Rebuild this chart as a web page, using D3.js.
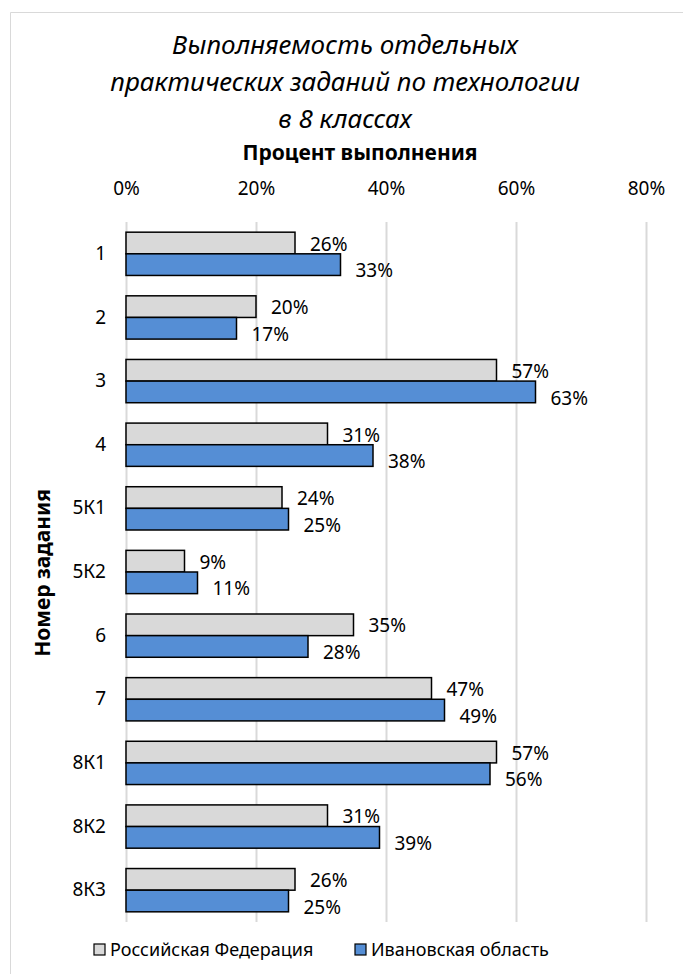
<!DOCTYPE html>
<html>
<head>
<meta charset="utf-8">
<script src="https://cdn.jsdelivr.net/npm/d3@7"></script>
<style>
  body { margin: 0; background: #fff; }
  text { font-family: "Noto Sans", "Open Sans", sans-serif; fill: #000; }
</style>
</head>
<body>
<div id="display"></div>
<script>
// data
const categories = ['1', '2', '3', '4', '5К1', '5К2', '6', '7', '8К1', '8К2', '8К3'];
const seriesNames = ['Российская Федерация', 'Ивановская область'];
const rfValues = [26, 20, 57, 31, 24, 9, 35, 47, 57, 31, 26];
const ivValues = [33, 17, 63, 38, 25, 11, 28, 49, 56, 39, 25];
const xTicks = [0, 20, 40, 60, 80];
const titleLines = ['Выполняемость отдельных', 'практических заданий по технологии', 'в 8 классах'];

const colors = ['#d9d9d9', '#558ed5'];

const W = 683, H = 974;
const margin = {top: 222, right: 37, bottom: 52, left: 126};
const width = W - margin.left - margin.right;
const height = H - margin.top - margin.bottom;

const svg = d3.select('#display')
  .append('svg')
    .attr('width', W)
    .attr('height', H);

// chart border (left and top only visible)
svg.append('path')
  .attr('d', 'M10.5,' + H + 'V12.5H' + W)
  .attr('fill', 'none')
  .attr('stroke', '#d9d9d9')
  .attr('stroke-width', 1);

// title
svg.append('g').selectAll('text')
  .data(titleLines)
  .enter()
  .append('text')
    .attr('x', 345)
    .attr('y', (d, i) => 54 + i * 37)
    .attr('text-anchor', 'middle')
    .style('font-size', '26px')
    .style('font-style', 'italic')
    .text(d => d);

// x axis title
svg.append('text')
  .attr('x', 360)
  .attr('y', 160)
  .attr('text-anchor', 'middle')
  .style('font-size', '21px')
  .style('font-weight', 'bold')
  .text('Процент выполнения');

const g = svg.append('g')
  .attr('transform', 'translate(' + margin.left + ',' + margin.top + ')');

// scales
const x = d3.scaleLinear().domain([0, 80]).range([0, width]);
const y = d3.scaleBand().domain(categories).range([0, height]).paddingInner(0.32).paddingOuter(0.16);
const ySub = d3.scaleBand().domain([0, 1]).range([0, y.bandwidth()]);

// gridlines
g.append('g')
  .selectAll('line')
  .data(xTicks)
  .enter()
  .append('line')
    .attr('x1', d => Math.round(x(d)) + 0.5)
    .attr('x2', d => Math.round(x(d)) + 0.5)
    .attr('y1', 0)
    .attr('y2', height)
    .attr('stroke', '#d9d9d9')
    .attr('stroke-width', 2);

// top axis
const xAxis = g.append('g')
  .attr('transform', 'translate(0,-27)')
  .call(d3.axisTop(x).tickValues(xTicks).tickFormat(d => d + '%').tickSize(0).tickPadding(0));
xAxis.select('.domain').remove();
xAxis.selectAll('text').style('font-size', '19px').attr('dy', 0);

// left axis
const yAxis = g.append('g')
  .call(d3.axisLeft(y).tickSize(0).tickPadding(20));
yAxis.select('.domain').remove();
yAxis.selectAll('text').style('font-size', '19px');

// y axis title
svg.append('text')
  .attr('transform', 'translate(50,573) rotate(-90)')
  .attr('text-anchor', 'middle')
  .style('font-size', '21px')
  .style('font-weight', 'bold')
  .text('Номер задания');

// bars
const rows = categories.map((c, i) => ({cat: c, vals: [rfValues[i], ivValues[i]]}));

const groups = g.selectAll('.cat')
  .data(rows)
  .enter()
  .append('g')
    .attr('class', 'cat')
    .attr('transform', d => 'translate(0,' + y(d.cat) + ')');

groups.selectAll('rect')
  .data(d => d.vals.map((v, k) => ({v: v, k: k})))
  .enter()
  .append('rect')
    .attr('x', 0)
    .attr('y', d => ySub(d.k))
    .attr('width', d => x(d.v))
    .attr('height', ySub.bandwidth())
    .attr('fill', d => colors[d.k])
    .attr('stroke', '#000')
    .attr('stroke-width', 1.5);

// data labels
groups.selectAll('.lbl')
  .data(d => d.vals.map((v, k) => ({v: v, k: k})))
  .enter()
  .append('text')
    .attr('class', 'lbl')
    .attr('x', d => x(d.v) + 15)
    .attr('y', d => ySub(d.k) + ySub.bandwidth() / 2 + (d.k === 0 ? 1 : 6))
    .attr('dy', '0.35em')
    .style('font-size', '19px')
    .text(d => d.v + '%');

// legend
const legend = svg.append('g')
  .attr('transform', 'translate(0,950)');
const legX = [94, 355];
seriesNames.forEach((name, k) => {
  legend.append('rect')
    .attr('x', legX[k])
    .attr('y', -6)
    .attr('width', 11)
    .attr('height', 11)
    .attr('fill', colors[k])
    .attr('stroke', '#000')
    .attr('stroke-width', 1.2);
  legend.append('text')
    .attr('x', legX[k] + 16)
    .attr('y', 0)
    .attr('dy', '0.35em')
    .style('font-size', '18px')
    .text(name);
});
</script>
</body>
</html>
